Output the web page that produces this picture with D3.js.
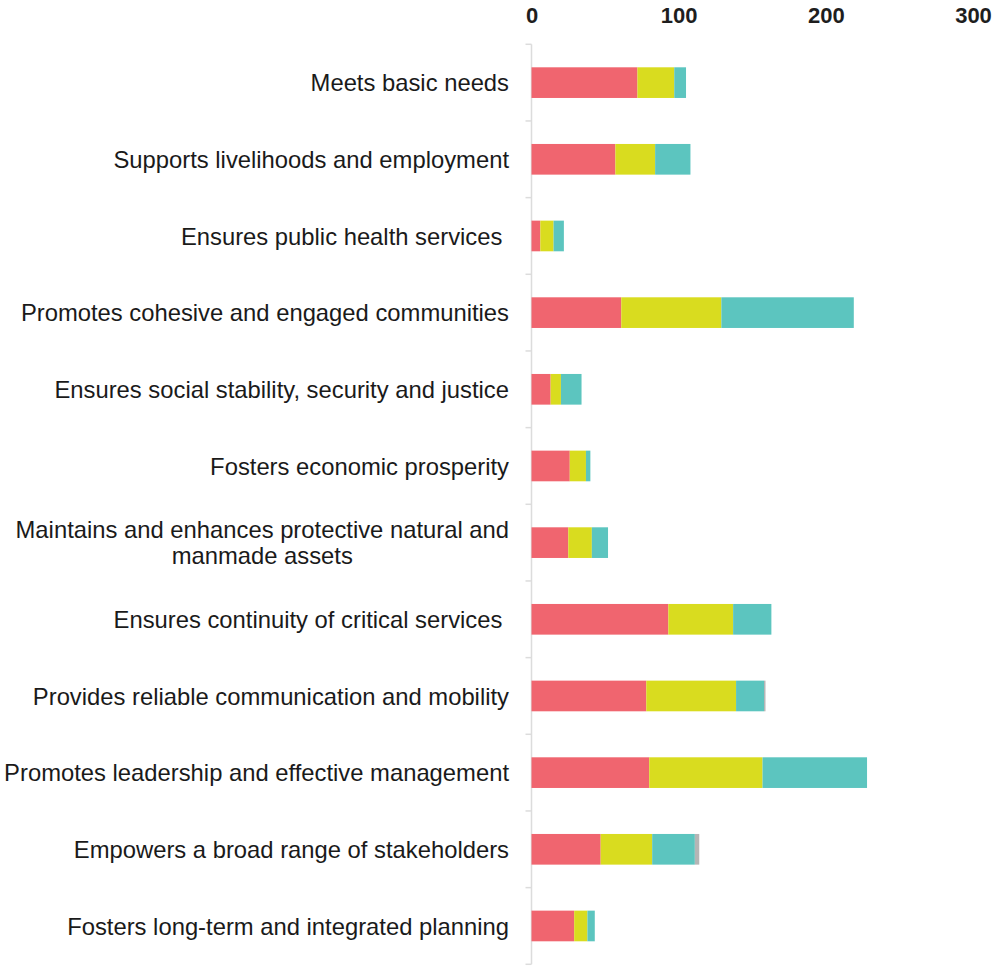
<!DOCTYPE html>
<html>
<head>
<meta charset="utf-8">
<script src="https://cdn.jsdelivr.net/npm/d3@7"></script>
<style>
	body { margin: 0; background: #fff; }
	svg { display: block; }
	text { font-family: "Liberation Sans", Arial, sans-serif; }
</style>
</head>
<body>
<svg width="1000" height="966"></svg>
<script>
	// categories, top to bottom
	var categories = [
		"Meets basic needs",
		"Supports livelihoods and employment",
		"Ensures public health services ",
		"Promotes cohesive and engaged communities",
		"Ensures social stability, security and justice",
		"Fosters economic prosperity",
		"Maintains and enhances protective natural and\nmanmade assets",
		"Ensures continuity of critical services ",
		"Provides reliable communication and mobility",
		"Promotes leadership and effective management",
		"Empowers a broad range of stakeholders",
		"Fosters long-term and integrated planning"
	];

	// stacked series, left to right
	var redValues    = [72, 57, 6, 61, 13, 26, 25, 93, 78, 80, 47, 29];
	var yellowValues = [25, 27, 9, 68, 7, 11, 16, 44, 61, 77, 35, 9];
	var tealValues   = [8, 24, 7, 90, 14, 3, 11, 26, 19, 71, 29, 5];
	var greyValues   = [0, 0, 0, 0, 0, 0, 0, 0, 1, 0, 3, 0];

	var seriesKeys = ["red", "yellow", "teal", "grey"];
	var seriesColors = ["#f0656f", "#d9dc1f", "#5cc5bf", "#b5b5b5"];
	var xTicks = [0, 100, 200, 300];

	var rows = categories.map(function(c, i) {
		return { cat: c, red: redValues[i], yellow: yellowValues[i], teal: tealValues[i], grey: greyValues[i] };
	});

	var svg = d3.select("svg");

	var x = d3.scaleLinear().domain([0, 300]).range([531.5, 973]);
	var y = d3.scaleBand()
		.domain(categories)
		.range([44.3, 964.3])
		.paddingInner(0.6)
		.paddingOuter(0.3);

	var color = d3.scaleOrdinal().domain(seriesKeys).range(seriesColors);

	var stack = d3.stack().keys(seriesKeys);
	var stacked = stack(rows);

	// y axis line and band ticks
	var axisG = svg.append("g").attr("class", "y-axis");
	var half = (y.step() - y.bandwidth()) / 2;
	var bounds = categories.map(function(d) { return y(d) - half; });
	bounds.push(y.range()[1]);

	axisG.append("line")
		.attr("x1", x(0)).attr("x2", x(0))
		.attr("y1", y.range()[0]).attr("y2", y.range()[1])
		.attr("stroke", "#dcdcdc")
		.attr("stroke-width", 1.5);

	axisG.selectAll("line.tick")
		.data(bounds)
		.enter().append("line")
			.attr("class", "tick")
			.attr("x1", x(0) - 6).attr("x2", x(0))
			.attr("y1", function(d) { return d; })
			.attr("y2", function(d) { return d; })
			.attr("stroke", "#dcdcdc")
			.attr("stroke-width", 1.5);

	// bars
	svg.append("g").selectAll("g")
		.data(stacked)
		.enter().append("g")
			.attr("fill", function(d) { return color(d.key); })
		.selectAll("rect")
		.data(function(d) { return d; })
		.enter().append("rect")
			.attr("x", function(d) { return x(d[0]); })
			.attr("y", function(d) { return y(d.data.cat); })
			.attr("width", function(d) { return x(d[1]) - x(d[0]); })
			.attr("height", y.bandwidth());

	// x axis on top, bold labels only
	var xAxis = d3.axisTop(x).tickValues(xTicks).tickSize(0).tickPadding(0);
	var xg = svg.append("g")
		.attr("transform", "translate(0,23)")
		.call(xAxis);
	xg.select(".domain").remove();
	xg.selectAll("text")
		.attr("dy", 0)
		.attr("fill", "#1e1e1e")
		.style("font-family", "'Liberation Sans', Arial, sans-serif")
		.style("font-size", "22px")
		.style("font-weight", "bold");

	// category labels
	var labelRight = 509;
	var lineH = 26;
	var labels = svg.append("g").attr("class", "labels");

	categories.forEach(function(c) {
		var lines = c.split("\n");
		var cy = y(c) + y.bandwidth() / 2;
		var t = labels.append("text")
			.attr("fill", "#1a1a1a")
			.style("font-size", "23.8px")
			.style("white-space", "pre")
			.attr("xml:space", "preserve");
		if (lines.length === 1) {
			t.attr("x", labelRight)
				.attr("y", cy)
				.attr("dy", "0.36em")
				.attr("text-anchor", "end")
				.text(c);
		} else {
			// wrapped label: lines centred on the block
			t.attr("text-anchor", "middle");
			var spans = t.selectAll("tspan")
				.data(lines)
				.enter().append("tspan")
					.text(function(d) { return d; });
			var maxW = 0;
			spans.each(function() { maxW = Math.max(maxW, this.getComputedTextLength()); });
			var mid = labelRight - maxW / 2;
			spans
				.attr("x", mid)
				.attr("y", function(d, i) { return cy + (i - (lines.length - 1) / 2) * lineH; })
				.attr("dy", "0.36em");
		}
	});
</script>
</body>
</html>
